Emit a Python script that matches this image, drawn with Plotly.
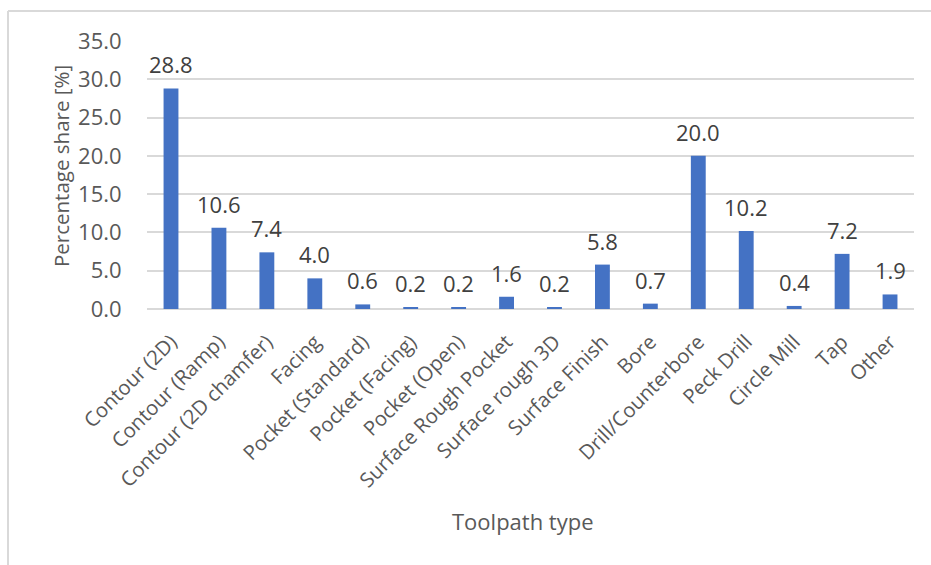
import plotly.graph_objects as go

# Share of each toolpath type
toolpaths = [
    "Contour (2D)", "Contour (Ramp)", "Contour (2D chamfer)", "Facing",
    "Pocket (Standard)", "Pocket (Facing)", "Pocket (Open)", "Surface Rough Pocket",
    "Surface rough 3D", "Surface Finish", "Bore", "Drill/Counterbore",
    "Peck Drill", "Circle Mill", "Tap", "Other",
]
shares = [28.8, 10.6, 7.4, 4.0, 0.6, 0.2, 0.2, 1.6, 0.2, 5.8, 0.7, 20.0, 10.2, 0.4, 7.2, 1.9]
y_ticks = [0, 5, 10, 15, 20, 25, 30, 35]

W, H = 931, 565
L, R, T, B = 147, 17, 41, 256
FONT = "Open Sans"
TXT = "#595959"
GRID = "#d9d9d9"
FS = 22

fig = go.Figure(
    go.Bar(
        x=toolpaths,
        y=shares,
        marker=dict(color="#4472C4", line=dict(width=0)),
        hoverinfo="x+y",
    )
)

# Value labels above each bar
annotations = [
    dict(x=c, y=v, xref="x", yref="y", text=f"{v:.1f}", showarrow=False,
         yanchor="middle", yshift=24, font=dict(family=FONT, size=FS, color="#404040"))
    for c, v in zip(toolpaths, shares)
]

pw, ph = W - L - R, H - T - B


def px_x(p):
    return (p - L) / pw


def px_y(p):
    return (H - B - p) / ph


annotations += [
    dict(text="Toolpath type", xref="paper", yref="paper", x=px_x(523), y=px_y(521),
         showarrow=False, xanchor="center", yanchor="middle",
         font=dict(family=FONT, size=FS, color=TXT)),
    dict(text="Percentage share [%]", xref="paper", yref="paper", x=px_x(61), y=px_y(166),
         showarrow=False, xanchor="center", yanchor="middle", textangle=-90,
         font=dict(family=FONT, size=20.5, color=TXT)),
]

# Chart-area frame (left and top edges)
shapes = [
    dict(type="line", xref="paper", yref="paper", x0=px_x(8), x1=px_x(8),
         y0=px_y(H + 5), y1=px_y(11), line=dict(color=GRID, width=2)),
    dict(type="line", xref="paper", yref="paper", x0=px_x(8), x1=px_x(W + 5),
         y0=px_y(11), y1=px_y(11), line=dict(color=GRID, width=2)),
]

fig.update_layout(
    width=W, height=H,
    margin=dict(l=L, r=R, t=T, b=B, pad=0),
    paper_bgcolor="white", plot_bgcolor="white",
    bargap=0.69,
    showlegend=False,
    annotations=annotations,
    shapes=shapes,
    font=dict(family=FONT, size=FS, color=TXT),
    xaxis=dict(
        tickangle=-45,
        showgrid=False,
        showline=False,
        ticks="outside", ticklen=12, tickcolor="rgba(0,0,0,0)",
        tickfont=dict(family=FONT, size=20.3, color=TXT),
    ),
    yaxis=dict(
        range=[0, 35],
        tickvals=y_ticks,
        ticktext=[f"{t:.1f}" for t in y_ticks],
        showgrid=True, gridcolor=GRID, gridwidth=1.5,
        zeroline=True, zerolinecolor=GRID, zerolinewidth=1.5,
        showline=False,
        ticks="outside", ticklen=20, tickcolor="rgba(0,0,0,0)",
        tickfont=dict(family=FONT, size=FS, color=TXT),
    ),
)

fig.write_html("out.html")
